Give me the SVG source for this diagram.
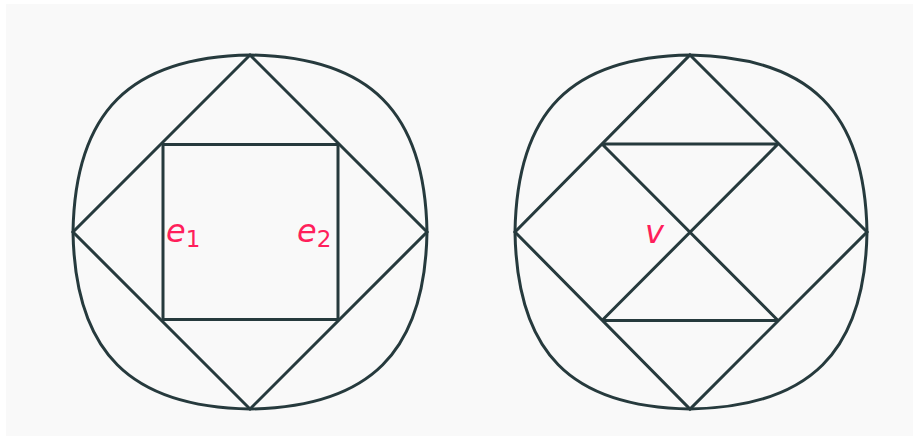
<svg xmlns="http://www.w3.org/2000/svg" width="913" height="436" viewBox="0 0 913 436">
<style>
.s{fill:none;stroke:#263a3d;stroke-width:3;stroke-linejoin:miter}
.l{font-family:"DejaVu Sans",sans-serif;font-style:italic;fill:#ff1f5b}
</style>
<rect x="0" y="0" width="913" height="436" fill="#ffffff"/>
<rect x="6" y="4" width="907" height="432" fill="#f9f9f9"/>
<g id="left-figure">
<path class="s" d="M250,55 C370,57 425,112 427,232 C425,352 370,407 250,409 C130,407 75,352 73,232 C75,112 130,57 250,55 Z"/>
<path class="s" d="M250,55 L427,232 L250,409 L73,232 Z"/>
<rect class="s" x="163" y="144.5" width="175" height="175"/>
<text class="l" x="166" y="242" font-size="32">e<tspan font-size="23" font-style="normal" dy="5">1</tspan></text>
<text class="l" x="297" y="242" font-size="32">e<tspan font-size="23" font-style="normal" dy="5">2</tspan></text>
</g>
<g id="right-figure">
<path class="s" d="M690,55 C810,57 865,112 867,232 C865,352 810,407 690,409 C570,407 517,352 515,232 C517,112 570,57 690,55 Z"/>
<path class="s" d="M690,55 L867,232 L690,409 L515,232 Z"/>
<path class="s" d="M602,144 L778,144 M602,320.5 L778,320.5 M602,144 L778,320.5 M778,144 L602,320.5"/>
<text class="l" x="645" y="243" font-size="32">v</text>
</g>
</svg>
